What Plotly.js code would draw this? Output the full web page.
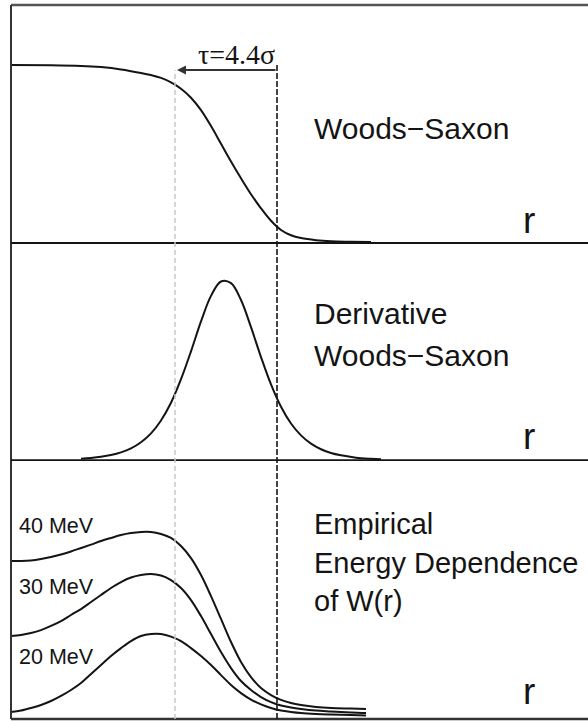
<!DOCTYPE html>
<html>
<head>
<meta charset="utf-8">
<script src="https://cdn.plot.ly/plotly-3.0.1.min.js"></script>
<style>
  html, body { margin: 0; padding: 0; background: #fff; }
  #chart { width: 588px; height: 721px; }
</style>
</head>
<body>
<div id="chart"></div>
<script>
// Radial coordinate grids (arbitrary length units) for each panel
const rWS = [0, 0.8, 1.4, 1.8, 2.2, 2.6, 2.8, 3.0, 3.2, 3.4, 3.6, 3.8, 4.0, 4.2, 4.4, 4.6, 4.8, 5.0, 5.2, 5.4, 5.6, 5.8, 6.1, 6.4, 6.8, 7.2];
const woodsSaxon = [1.0, 0.999, 0.995, 0.988, 0.975, 0.955, 0.943, 0.927, 0.902, 0.866, 0.815, 0.745, 0.655, 0.555, 0.455, 0.36, 0.27, 0.19, 0.12, 0.068, 0.038, 0.022, 0.01, 0.004, 0.0015, 0.0];

const rDer = [1.4, 1.6, 1.8, 2.0, 2.2, 2.4, 2.6, 2.8, 3.0, 3.2, 3.4, 3.6, 3.8, 4.0, 4.2, 4.4, 4.6, 4.8, 5.0, 5.2, 5.4, 5.6, 5.8, 6.0, 6.2, 6.4, 6.6, 6.9, 7.2, 7.4];
const derivWS = [0.0076, 0.0117, 0.0181, 0.0277, 0.0426, 0.0647, 0.0986, 0.148, 0.22, 0.318, 0.449, 0.604, 0.77, 0.912, 0.992, 0.983, 0.889, 0.738, 0.572, 0.42, 0.296, 0.203, 0.137, 0.091, 0.06, 0.039, 0.026, 0.013, 0.007, 0.0045];

const rW = [0, 0.2, 0.4, 0.6, 0.8, 1.0, 1.2, 1.4, 1.6, 1.8, 2.0, 2.2, 2.4, 2.6, 2.8, 3.0, 3.2, 3.4, 3.6, 3.8, 4.0, 4.2, 4.4, 4.6, 4.8, 5.0, 5.2, 5.4, 5.6, 5.8, 6.1, 6.4, 6.8, 7.1];
const w40 = [0.878, 0.878, 0.881, 0.889, 0.9, 0.914, 0.931, 0.95, 0.969, 0.989, 1.006, 1.022, 1.033, 1.039, 1.039, 1.028, 1.006, 0.961, 0.894, 0.8, 0.683, 0.556, 0.428, 0.317, 0.233, 0.172, 0.133, 0.106, 0.089, 0.078, 0.067, 0.061, 0.058, 0.056];
const w30 = [0.461, 0.467, 0.478, 0.494, 0.517, 0.544, 0.578, 0.611, 0.65, 0.689, 0.728, 0.761, 0.786, 0.8, 0.806, 0.797, 0.772, 0.728, 0.661, 0.572, 0.472, 0.372, 0.283, 0.211, 0.161, 0.122, 0.094, 0.075, 0.064, 0.056, 0.047, 0.042, 0.036, 0.033];
const w20 = [0.039, 0.047, 0.061, 0.078, 0.1, 0.128, 0.161, 0.2, 0.25, 0.3, 0.35, 0.394, 0.433, 0.461, 0.472, 0.472, 0.458, 0.433, 0.394, 0.35, 0.3, 0.244, 0.189, 0.144, 0.108, 0.081, 0.061, 0.047, 0.039, 0.033, 0.028, 0.025, 0.022, 0.019];

const energyLabels = ['40 MeV', '30 MeV', '20 MeV'];
const energyLabelY = [1.075, 0.735, 0.342];

// Reference radii marked by the vertical dashed lines
const rInner = 3.28;
const rOuter = 5.32;
const diffuseLabel = 'τ=4.4σ';

const ink = '#141414';
const sans = 'Liberation Sans, Arial, sans-serif';
const serif = 'Liberation Serif, Times New Roman, serif';

function curve(x, y, yaxis) {
  return {
    x: x, y: y, xaxis: 'x', yaxis: yaxis,
    type: 'scatter', mode: 'lines',
    line: { color: ink, width: 2, shape: 'spline', smoothing: 1 },
    hoverinfo: 'skip', showlegend: false
  };
}

const data = [
  curve(rWS, woodsSaxon, 'y'),
  curve(rDer, derivWS, 'y2'),
  curve(rW, w40, 'y3'),
  curve(rW, w30, 'y3'),
  curve(rW, w20, 'y3')
];

const hidden = {
  showgrid: false, zeroline: false, showticklabels: false,
  ticks: '', showline: false, fixedrange: true
};

const frame = '#333';
const shapes = [
  // outer frame (top, left, bottom) and panel separators
  { type: 'line', xref: 'paper', yref: 'paper', x0: 0, x1: 1, y0: 1, y1: 1, line: { color: '#555', width: 2.5 } },
  { type: 'line', xref: 'paper', yref: 'paper', x0: 0, x1: 0, y0: 0, y1: 1, line: { color: frame, width: 2 } },
  { type: 'line', xref: 'paper', yref: 'paper', x0: 0, x1: 1, y0: 0, y1: 0, line: { color: frame, width: 2.5 } },
  { type: 'line', xref: 'paper', yref: 'paper', x0: 0, x1: 1, y0: 0.6667, y1: 0.6667, line: { color: ink, width: 1.8 } },
  { type: 'line', xref: 'paper', yref: 'paper', x0: 0, x1: 1, y0: 0.3627, y1: 0.3627, line: { color: ink, width: 1.8 } },
  // dashed radii
  { type: 'line', xref: 'x', yref: 'paper', x0: rInner, x1: rInner, y0: 0, y1: 0.909, line: { color: '#c8c8c8', width: 1.5, dash: '5px,3px' } },
  { type: 'line', xref: 'x', yref: 'paper', x0: rOuter, x1: rOuter, y0: 0, y1: 0.918, line: { color: ink, width: 1.6, dash: '6px,2px' } }
];

function label(text, x, y, yref, size, extra) {
  return Object.assign({
    text: text, x: x, y: y, xref: 'x', yref: yref,
    xanchor: 'left', yanchor: 'middle', showarrow: false,
    font: { family: sans, size: size, color: ink }
  }, extra || {});
}

const annotations = [
  // diffuseness arrow
  {
    x: rInner + 0.04, y: 0.972, ax: rOuter, ay: 0.972,
    xref: 'x', yref: 'y', axref: 'x', ayref: 'y',
    text: '', showarrow: true, arrowhead: 2, arrowsize: 0.9,
    arrowwidth: 2, arrowcolor: '#333'
  },
  label(diffuseLabel, 4.5, 1.06, 'y', 28, { xanchor: 'center', font: { family: serif, size: 28, color: ink } }),
  label('Woods−Saxon', 6.02, 0.64, 'y', 30),
  label('r', 10.36, 0.12, 'y', 37, { xanchor: 'center' }),
  label('Derivative', 6.02, 0.815, 'y2', 30),
  label('Woods−Saxon', 6.02, 0.58, 'y2', 30),
  label('r', 10.36, 0.13, 'y2', 37, { xanchor: 'center' }),
  label('Empirical', 6.02, 1.085, 'y3', 29),
  label('Energy Dependence', 6.02, 0.868, 'y3', 29),
  label('of W(r)', 6.02, 0.655, 'y3', 29),
  label('r', 10.36, 0.155, 'y3', 37, { xanchor: 'center' })
];
energyLabels.forEach(function (t, i) {
  annotations.push(label(t, 0.12, energyLabelY[i], 'y3', 21.5));
});

const layout = {
  width: 588, height: 721,
  margin: { l: 11, r: 0, t: 5, b: 2, pad: 0 },
  paper_bgcolor: '#fff', plot_bgcolor: '#fff',
  showlegend: false,
  xaxis: Object.assign({ range: [0, 11.54] }, hidden),
  yaxis: Object.assign({ domain: [0.6667, 1], range: [-0.0056, 1.339] }, hidden),
  yaxis2: Object.assign({ domain: [0.3627, 0.6667], range: [0, 1.206], anchor: 'x' }, hidden),
  yaxis3: Object.assign({ domain: [0, 0.3627], range: [0, 1.439], anchor: 'x' }, hidden),
  shapes: shapes,
  annotations: annotations
};

Plotly.newPlot('chart', data, layout, { displayModeBar: false, staticPlot: true });
</script>
</body>
</html>
